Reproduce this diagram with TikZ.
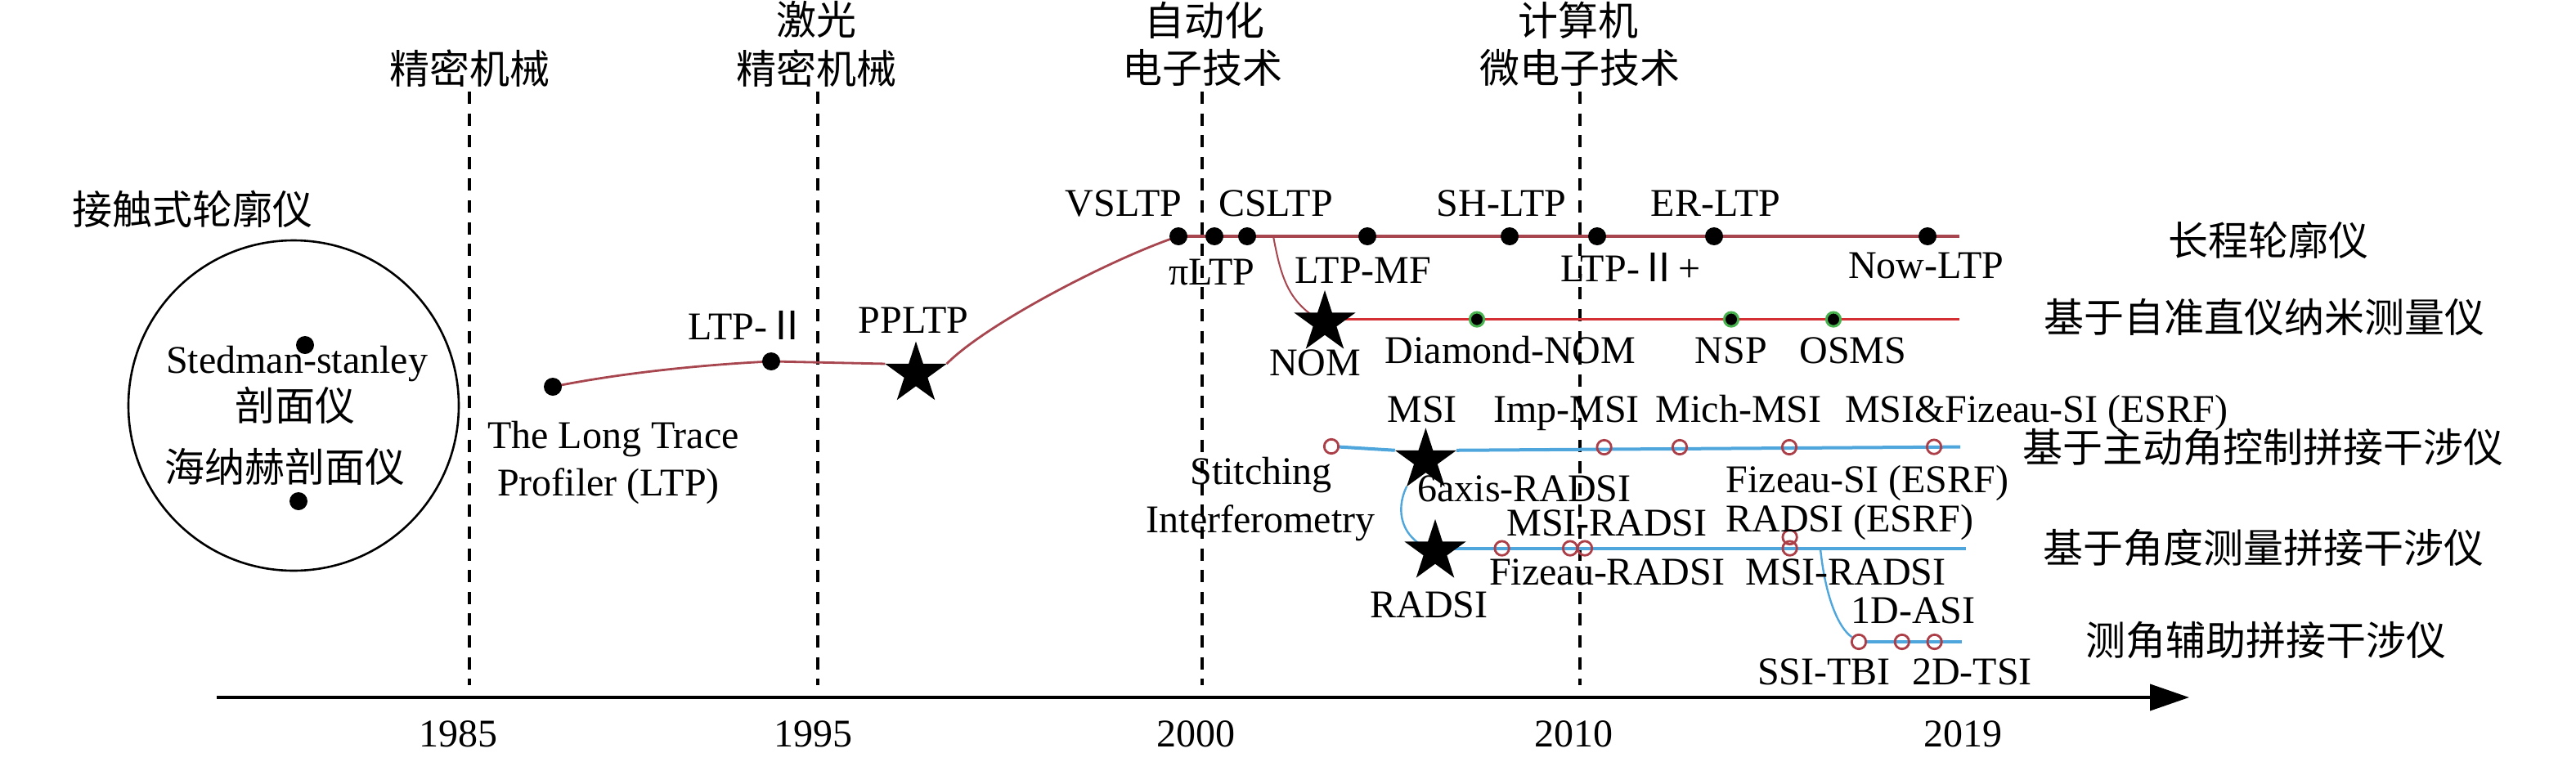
\documentclass[tikz,border=0pt]{standalone}
\usepackage{fontspec}
\setmainfont{Liberation Serif}
\newfontfamily\cjk{Noto Sans CJK SC}
\usetikzlibrary{shapes.geometric,arrows.meta}
\pgfdeclarelayer{bg}
\pgfsetlayers{bg,main}
\definecolor{cmaroon}{RGB}{168,70,80}
\definecolor{cred}{RGB}{212,48,52}
\definecolor{cring}{RGB}{172,62,72}
\definecolor{cblue}{RGB}{78,166,220}
\definecolor{cgreen}{RGB}{72,178,78}
\tikzset{
 lt/.style={font=\fontsize{24}{28}\selectfont, inner sep=0pt, anchor=base},
 cj/.style={font=\cjk\fontsize{24.5}{29}\selectfont, inner sep=0pt},
 bdot/.style={circle, fill=black, inner sep=0pt, minimum size=11pt},
 gdot/.style={circle, fill=black, draw=cgreen, line width=1.5pt, inner sep=0pt, minimum size=8.6pt},
 hcirc/.style={circle, draw=cring, line width=1.4pt, inner sep=0pt, minimum size=8.7pt},
 bigstar/.style={star, star points=5, star point ratio=2.618, fill=black, inner sep=0pt, outer sep=0pt, minimum size=39.6pt},
 dashline/.style={line width=1.6pt, dash pattern=on 7.5pt off 5.8pt},
 redA/.style={cmaroon, line width=1.4pt},
 redtop/.style={cmaroon, line width=2pt},
 redB/.style={cred, line width=1.6pt},
 bluemain/.style={cblue, line width=2pt},
 bluecurve/.style={cblue, line width=1.2pt},
 axisline/.style={line width=2pt, -{Triangle[length=24pt,width=16pt]}},
}
\begin{document}
\begin{tikzpicture}[x=1pt,y=-1pt]
\useasboundingbox (0,0) rectangle (1575,466);

% era labels
\node[cj] (e1) at (287,42) {精密机械};
\node[cj] (e2a) at (499,12) {激光};
\node[cj] (e2b) at (499,42) {精密机械};
\node[cj] (e3a) at (736.5,12.5) {自动化};
\node[cj] (e3b) at (735,41.7) {电子技术};
\node[cj] (e4a) at (965,12.5) {计算机};
\node[cj] (e4b) at (966,41.7) {微电子技术};

% dashed era lines
\coordinate (d1t) at (287,56);  \coordinate (d1b) at (287,419);
\coordinate (d2t) at (500,56);  \coordinate (d2b) at (500,419);
\coordinate (d3t) at (735,56);  \coordinate (d3b) at (735,419);
\coordinate (d4t) at (966,56);  \coordinate (d4b) at (966,419);

% axis
\coordinate (ax0) at (132.5,426.5);
\coordinate (ax1) at (1338.5,426.5);
\node[lt] (y85) at (280,456.5) {1985};
\node[lt] (y95) at (497,456.5) {1995};
\node[lt] (y00) at (731,456.5) {2000};
\node[lt] (y10) at (962,456.5) {2010};
\node[lt] (y19) at (1200,456.5) {2019};

% contact profilers
\node[cj] (ct) at (117.5,128) {接触式轮廓仪};
\node[circle, draw, line width=1.3pt, minimum size=202pt, inner sep=0pt] (ring) at (179.5,248) {};
\node[bdot] (ss) at (186.5,211) {};
\node[bdot] (hn) at (182.5,306.5) {};
\node[lt] (sst) at (181.5,228) {Stedman-stanley};
\node[cj] (ssc) at (180.5,248) {剖面仪};
\node[cj] (hnc) at (174,285.5) {海纳赫剖面仪};

% LTP chain
\node[bdot] (ltp) at (338,236.5) {};
\node[bdot] (ltp2) at (471.5,221) {};
\node[bigstar] (pp) at (560,228.6) {};
\node[lt] (ltpa) at (375,274) {The Long Trace};
\node[lt] (ltpb) at (372,303) {Profiler (LTP)};
\node[lt] (ltp2l) at (457,207.5) {LTP-{\cjk Ⅱ}};
\node[lt] (ppl) at (558.5,203.5) {PPLTP};

\node[bdot] (vs) at (720.5,144.5) {};
\node[bdot] (pi) at (742.5,144.5) {};
\node[bdot] (cs) at (762.5,144.5) {};
\node[bdot] (mf) at (836,144.5) {};
\node[bdot] (sh) at (923,144.5) {};
\node[bdot] (l2p) at (976.5,144.5) {};
\node[bdot] (er) at (1048,144.5) {};
\node[bdot] (now) at (1178.5,144.5) {};
\coordinate (topend) at (1198,144.5);
\coordinate (nomb) at (778.5,144.5);

\node[lt] (vsl) at (687,132) {VSLTP};
\node[lt] (csl) at (780,132) {CSLTP};
\node[lt] (shl) at (918,132) {SH-LTP};
\node[lt] (erl) at (1049,132) {ER-LTP};
\node[lt] (pil) at (741,174) {πLTP};
\node[lt] (mfl) at (833.5,173) {LTP-MF};
\node[lt] (l2pl) at (997,172) {LTP-{\cjk Ⅱ}+};
\node[lt] (nowl) at (1177.7,170) {Now-LTP};
\node[cj] (cat1) at (1387,146.7) {长程轮廓仪};

% NOM
\node[bigstar] (nom) at (810,197.3) {};
\coordinate (nomend) at (1198,195.3);
\node[gdot] (dnom) at (903,195.3) {};
\node[gdot] (nsp) at (1058.5,195.3) {};
\node[gdot] (osms) at (1121,195.3) {};
\node[lt] (noml) at (804,229.7) {NOM};
\node[lt] (dnoml) at (923.5,222) {Diamond-NOM};
\node[lt] (nspl) at (1058.5,222) {NSP};
\node[lt] (osmsl) at (1133,222) {OSMS};
\node[cj] (cat2) at (1384.6,194) {基于自准直仪纳米测量仪};

% MSI row
\node[hcirc] (s0) at (814,273) {};
\node[bigstar] (msi) at (871.7,281.5) {};
\node[hcirc] (imp) at (980.8,273.5) {};
\node[hcirc] (mich) at (1027,273.5) {};
\node[hcirc] (fz) at (1094,273.5) {};
\node[hcirc] (mfz) at (1182.5,273.3) {};
\coordinate (msiend) at (1198.6,273.3);
\node[lt] (msil) at (869.6,258.4) {MSI};
\node[lt] (impl) at (957.7,258) {Imp-MSI};
\node[lt] (michl) at (1063,258) {Mich-MSI};
\node[lt] (mfzl) at (1245,258) {MSI\&Fizeau-SI (ESRF)};
\node[lt] (stl1) at (771,296.3) {Stitching};
\node[lt] (stl2) at (770.8,325.8) {Interferometry};
\node[lt] (sixl) at (932,306.7) {6axis-RADSI};
\node[lt] (fzl) at (1141.7,301) {Fizeau-SI (ESRF)};
\node[cj] (cat3) at (1383.8,273.3) {基于主动角控制拼接干涉仪};

% RADSI row
\node[bigstar] (radsi) at (877.5,337.3) {};
\coordinate (radend) at (1201.8,335.5);
\node[hcirc] (fr) at (918.3,335.3) {};
\node[hcirc] (mr1) at (960,335.3) {};
\node[hcirc] (mr2) at (969,335.3) {};
\node[hcirc] (re1) at (1094.3,328.5) {};
\node[hcirc] (re2) at (1094.3,335.3) {};
\coordinate (brs) at (1113,335.5);
\node[lt] (mr1l) at (982.5,327.5) {MSI-RADSI};
\node[lt] (rel) at (1131,325) {RADSI (ESRF)};
\node[lt] (frl) at (982.5,357.5) {Fizeau-RADSI};
\node[lt] (mr2l) at (1128.5,357.5) {MSI-RADSI};
\node[lt] (radl) at (873.7,377.5) {RADSI};
\node[cj] (cat4) at (1384,335) {基于角度测量拼接干涉仪};

% angle-assisted row
\node[hcirc] (ssi) at (1136.5,392.5) {};
\node[hcirc] (as1) at (1162.9,392.5) {};
\node[hcirc] (ts) at (1182.8,392.5) {};
\coordinate (botend) at (1199.3,392.5);
\node[lt] (asl) at (1169.7,381.3) {1D-ASI};
\node[lt] (ssil) at (1115.3,418.8) {SSI-TBI};
\node[lt] (tsl) at (1205.7,418.8) {2D-TSI};
\node[cj] (cat5) at (1385.4,391.7) {测角辅助拼接干涉仪};

\begin{pgfonlayer}{bg}
\draw[dashline] (d1t) -- (d1b);
\draw[dashline] (d2t) -- (d2b);
\draw[dashline] (d3t) -- (d3b);
\draw[dashline] (d4t) -- (d4b);
\draw[axisline] (ax0) -- (ax1);
\draw[redA] (ltp.center) .. controls (380,228) and (430,223) .. (ltp2.center) -- (pp.outer point 2);
\draw[redA] (pp.outer point 5) .. controls (603,198) and (680,158) .. (vs.center);
\draw[redtop] (vs.center) -- (topend);
\draw[cmaroon, line width=1pt] (nomb) .. controls (783,168) and (787,186) .. (nom.center);
\draw[redB] (nom.center |- nomend) -- (nomend);
\draw[bluemain] (s0) -- (msi.outer point 2);
\draw[bluemain] (msi.outer point 5) -- (msiend);
\draw[bluecurve] (msi.outer point 3) .. controls (853,312) and (856,330) .. (radsi.center);
\draw[bluemain] (radsi.center |- radend) -- (radend);
\draw[bluecurve] (brs) .. controls (1116,365) and (1124,384) .. (ssi);
\draw[bluemain] (ssi) -- (botend);
\end{pgfonlayer}
\end{tikzpicture}
\end{document}
